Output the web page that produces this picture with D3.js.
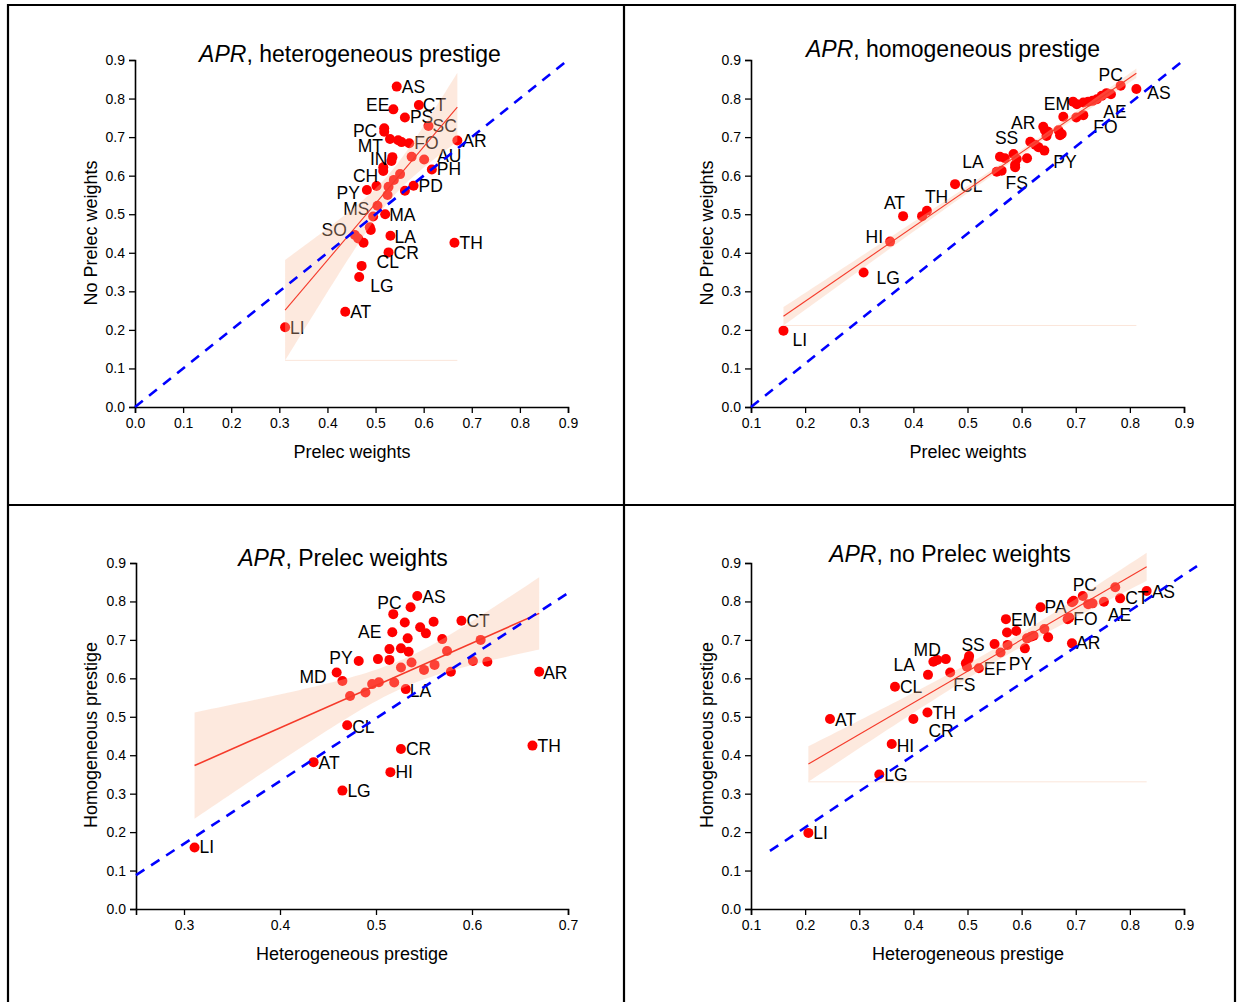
<!DOCTYPE html>
<html><head><meta charset="utf-8">
<script src="https://cdn.jsdelivr.net/npm/d3@7"></script>
<style>
body{margin:0;background:#fff}
text{font-family:Arial,"Liberation Sans",sans-serif;fill:#000}
</style>
</head><body>
<svg id="chart" width="1237" height="1002"></svg>
<script>
// ---------- DATA ----------
// Panel 1: APR, heterogeneous prestige  (x: Prelec weights, y: No Prelec weights)
const p1Points = [
 [0.544,0.831,"AS"],[0.537,0.772,"EE"],[0.590,0.783,"CT"],[0.561,0.751,"PS"],[0.610,0.729,"SC"],
 [0.518,0.723,"PC"],[0.518,0.714,""],[0.530,0.695,"MT"],[0.547,0.692,""],[0.554,0.687,""],
 [0.570,0.684,"FO"],[0.670,0.691,"AR"],[0.535,0.648,"IN"],[0.533,0.638,""],[0.575,0.649,""],
 [0.601,0.642,"AU"],[0.617,0.616,"PH"],[0.516,0.622,""],[0.516,0.612,"CH"],[0.551,0.604,""],
 [0.538,0.589,""],[0.482,0.563,"PY"],[0.502,0.573,""],[0.527,0.571,""],[0.525,0.550,""],
 [0.579,0.574,"PD"],[0.561,0.561,""],[0.504,0.522,"MS"],[0.520,0.500,"MA"],[0.495,0.494,""],
 [0.488,0.466,""],[0.490,0.459,""],[0.457,0.446,"SO"],[0.464,0.437,""],[0.475,0.426,""],
 [0.531,0.444,"LA"],[0.527,0.401,"CR"],[0.471,0.366,"CL"],[0.466,0.337,"LG"],[0.437,0.247,"AT"],
 [0.312,0.207,"LI"],[0.664,0.426,"TH"]
];
// Panel 2: APR, homogeneous prestige  (x: Prelec weights, y: No Prelec weights)
const p2Points = [
 [0.783,0.833,"PC"],[0.812,0.825,"AS"],[0.695,0.792,"EM"],[0.702,0.785,""],[0.714,0.790,""],
 [0.723,0.792,""],[0.731,0.794,""],[0.739,0.798,""],[0.748,0.807,""],[0.757,0.814,""],
 [0.765,0.811,""],[0.677,0.753,""],[0.701,0.751,"FO"],[0.714,0.757,"AE"],[0.640,0.727,"AR"],
 [0.643,0.718,""],[0.649,0.714,""],[0.668,0.718,""],[0.674,0.708,""],[0.646,0.703,""],
 [0.671,0.705,""],[0.616,0.688,"SS"],[0.625,0.680,""],[0.631,0.674,""],[0.642,0.665,"PY"],
 [0.610,0.645,""],[0.591,0.643,""],[0.585,0.656,""],[0.560,0.649,""],[0.569,0.645,""],
 [0.588,0.628,""],[0.588,0.622,""],[0.554,0.610,"LA"],[0.563,0.613,"FS"],[0.477,0.578,"CL"],
 [0.425,0.509,"TH"],[0.416,0.495,""],[0.381,0.495,"AT"],[0.357,0.429,"HI"],[0.308,0.349,"LG"],
 [0.160,0.198,"LI"]
];
// Panel 3: APR, Prelec weights  (x: Heterogeneous prestige, y: Homogeneous prestige)
const p3Points = [
 [0.543,0.814,"AS"],[0.536,0.785,"PC"],[0.518,0.767,""],[0.530,0.745,""],[0.560,0.747,""],
 [0.589,0.750,"CT"],[0.517,0.720,"AE"],[0.546,0.733,""],[0.552,0.717,""],[0.533,0.704,""],
 [0.569,0.702,""],[0.514,0.676,""],[0.526,0.678,""],[0.534,0.669,""],[0.609,0.700,""],
 [0.574,0.671,""],[0.482,0.645,"PY"],[0.502,0.650,""],[0.514,0.648,""],[0.537,0.641,""],
 [0.601,0.645,""],[0.616,0.643,""],[0.561,0.635,""],[0.550,0.622,""],[0.526,0.628,""],
 [0.670,0.617,"AR"],[0.578,0.617,""],[0.459,0.615,"MD"],[0.465,0.593,""],[0.496,0.585,""],
 [0.503,0.590,""],[0.489,0.563,""],[0.473,0.554,""],[0.519,0.589,""],[0.531,0.572,"LA"],
 [0.470,0.478,"CL"],[0.526,0.416,"CR"],[0.435,0.382,"AT"],[0.515,0.356,"HI"],[0.465,0.308,"LG"],
 [0.663,0.425,"TH"],[0.311,0.160,"LI"]
];
// Panel 4: APR, no Prelec weights  (x: Heterogeneous prestige, y: Homogeneous prestige)
const p4Points = [
 [0.831,0.827,"AS"],[0.773,0.837,""],[0.713,0.814,"PC"],[0.693,0.798,""],[0.696,0.802,""],
 [0.723,0.793,""],[0.731,0.795,""],[0.752,0.799,"AE"],[0.782,0.808,"CT"],[0.635,0.785,"PA"],
 [0.685,0.754,""],[0.688,0.758,"FO"],[0.571,0.754,"EM"],[0.573,0.719,""],[0.590,0.723,""],
 [0.610,0.704,""],[0.617,0.708,""],[0.622,0.711,""],[0.642,0.728,""],[0.649,0.707,""],
 [0.693,0.691,"AR"],[0.550,0.689,""],[0.574,0.687,""],[0.561,0.667,""],[0.606,0.678,"PY"],
 [0.503,0.658,"SS"],[0.502,0.650,""],[0.497,0.639,""],[0.499,0.630,""],[0.521,0.626,"EF"],
 [0.468,0.615,"FS"],[0.437,0.643,""],[0.444,0.648,"MD"],[0.460,0.650,""],[0.427,0.609,"LA"],
 [0.366,0.578,"CL"],[0.246,0.494,"AT"],[0.400,0.494,"CR"],[0.426,0.511,"TH"],[0.360,0.429,"HI"],
 [0.337,0.350,"LG"],[0.206,0.198,"LI"]
];
// dashed reference lines (data coordinates of end points)
const p1RefLine = [[0,0],[0.9,0.9]];
const p2RefLine = [[0.1,0],[0.9,0.9]];
const p3RefLine = [[0.25,0.088],[0.70,0.822]];
const p4RefLine = [[0.135,0.151],[0.924,0.892]];
// tick values
const ticksY = [0,0.1,0.2,0.3,0.4,0.5,0.6,0.7,0.8,0.9];
const ticksX1 = [0,0.1,0.2,0.3,0.4,0.5,0.6,0.7,0.8,0.9];
const ticksX2 = [0.1,0.2,0.3,0.4,0.5,0.6,0.7,0.8,0.9];
const ticksX3 = [0.3,0.4,0.5,0.6,0.7];
// titles / axis labels
const titles = [", heterogeneous prestige", ", homogeneous prestige", ", Prelec weights", ", no Prelec weights"];
const xTitles = ["Prelec weights","Prelec weights","Heterogeneous prestige","Heterogeneous prestige"];
const yTitles = ["No Prelec weights","No Prelec weights","Homogeneous prestige","Homogeneous prestige"];

// ---------- LAYOUT (label placement, pixels) ----------
const off1 = {AS:[5,0],EE:[-4,-4,"end"],CT:[4,0],PS:[5,0],SC:[4,0],PC:[-7,3,"end"],MT:[-7,7,"end"],
 FO:[5,0],AR:[5,0],IN:[-5,2,"end"],AU:[13,-3],PH:[5,0],CH:[-5,5,"end"],PY:[-7,3,"end"],PD:[5,0],
 MS:[-8,3,"end"],MA:[4,1],SO:[-8,-5,"end"],LA:[4,1],CR:[5,1],CL:[15,-4],LG:[11,9],AT:[5,0],LI:[5,1],TH:[5,0]};
const off2 = {PC:[-10,-11,"middle"],AS:[11,4],EM:[-3,2,"end"],AE:[20,-3],FO:[17,10],AR:[-8,-4,"end"],
 SS:[-12,-4,"end"],LA:[-13,-10,"end"],FS:[4,12],PY:[9,11],CL:[5,2],TH:[-2,-14],AT:[2,-13,"end"],
 HI:[-7,-5,"end"],LG:[13,6],LI:[9,9]};
const off3 = {AS:[5,1],PC:[-9,-4,"end"],CT:[5,0],AE:[-11,0,"end"],PY:[-6,-3,"end"],MD:[-10,4,"end"],
 AR:[4,1],LA:[4,2],CL:[5,2],CR:[5,0],AT:[5,1],HI:[5,0],LG:[5,0],TH:[5,0],LI:[5,0]};
const off4 = {AS:[5,1],PC:[2,-11,"middle"],CT:[5,0],PA:[4,0],FO:[4,1],AE:[4,13],EM:[5,1],AR:[4,0],
 PY:[-16,16],SS:[4,-11,"middle"],EF:[5,1],FS:[3,12],MD:[-10,-10,"middle"],LA:[-13,-10,"end"],
 CL:[5,0],AT:[5,1],TH:[5,0],CR:[15,12],HI:[5,2],LG:[5,1],LI:[5,0]};

const panels = [
 {pts:p1Points, ref:p1RefLine, off:off1, xd:[0,0.9], xr:[135,568], yr:[407,60], xt:ticksX1,
  title:[350,62], xl:[352,458], yl:[91,233], base:true},
 {pts:p2Points, ref:p2RefLine, off:off2, xd:[0.1,0.9], xr:[751,1184], yr:[407,60], xt:ticksX2,
  title:[953,57], xl:[968,458], yl:[707,233], base:true},
 {pts:p3Points, ref:p3RefLine, off:off3, xd:[0.25,0.7], xr:[136,568], yr:[909,563], xt:ticksX3,
  title:[343,566], xl:[352,960], yl:[91,735], base:false},
 {pts:p4Points, ref:p4RefLine, off:off4, xd:[0.1,0.9], xr:[751,1184], yr:[909,563], xt:ticksX2,
  title:[950,562], xl:[968,960], yl:[707,735], base:true}
];

const svg = d3.select("#chart");

// frame lines
const frame = svg.append("g").attr("stroke","#000").attr("stroke-width",2.2);
[[8,4,8,1002],[624,4,624,1002],[1235,4,1235,1002],[7,5,1236,5],[7,505,1236,505]].forEach(l=>
  frame.append("line").attr("x1",l[0]).attr("y1",l[1]).attr("x2",l[2]).attr("y2",l[3]));

function fit(pts){
  const n = pts.length;
  const xm = d3.mean(pts,d=>d[0]), ym = d3.mean(pts,d=>d[1]);
  const sxx = d3.sum(pts,d=>(d[0]-xm)**2), sxy = d3.sum(pts,d=>(d[0]-xm)*(d[1]-ym));
  const b = sxy/sxx, a = ym - b*xm;
  const s = Math.sqrt(d3.sum(pts,d=>(d[1]-a-b*d[0])**2)/(n-2));
  const t = 2.02;
  const f = x => a + b*x;
  const hw = x => t*s*Math.sqrt(1/n + (x-xm)**2/sxx);
  return {f,hw};
}

panels.forEach((p,i)=>{
  const g = svg.append("g");
  const x = d3.scaleLinear().domain(p.xd).range(p.xr);
  const y = d3.scaleLinear().domain([0,0.9]).range(p.yr);

  // axes
  const xMinor = d3.range(Math.round(p.xd[0]*20), Math.round(p.xd[1]*20)+1).map(k=>k/20);
  const yMinor = d3.range(0,19).map(k=>k/20);
  const xa = g.append("g").attr("transform",`translate(0,${p.yr[0]})`);
  xa.call(d3.axisBottom(x).tickValues(xMinor).tickSize(3).tickFormat(""));
  xa.call(d3.axisBottom(x).tickValues(p.xt).tickSize(6).tickFormat(d3.format(".1f")).tickPadding(5));
  const ya = g.append("g").attr("transform",`translate(${p.xr[0]},0)`);
  ya.call(d3.axisLeft(y).tickValues(yMinor).tickSize(3).tickFormat(""));
  ya.call(d3.axisLeft(y).tickValues(ticksY).tickSize(6).tickFormat(d3.format(".1f")).tickPadding(4));
  [xa,ya].forEach(a=>{
    a.selectAll(".domain").attr("stroke","#000").attr("stroke-width",1.6);
    a.selectAll(".tick line").attr("stroke","#000").attr("stroke-width",1.3);
    a.selectAll(".tick text").attr("font-size",14).attr("font-family","Arial, 'Liberation Sans', sans-serif").attr("fill","#000");
  });

  // points
  g.append("g").selectAll("circle").data(p.pts).join("circle")
    .attr("cx",d=>x(d[0])).attr("cy",d=>y(d[1])).attr("r",5).attr("fill","#ff0000");
  // labels
  g.append("g").selectAll("text").data(p.pts.filter(d=>d[2])).join("text")
    .attr("x",d=>x(d[0])+p.off[d[2]][0]).attr("y",d=>y(d[1])+p.off[d[2]][1])
    .attr("text-anchor",d=>p.off[d[2]][2]||"start")
    .attr("dominant-baseline","central").attr("font-size",17.5).text(d=>d[2]);

  // regression + confidence band
  const F = fit(p.pts);
  const [xmin,xmax] = d3.extent(p.pts,d=>d[0]);
  const xs = d3.range(0,61).map(k=>xmin+(xmax-xmin)*k/60);
  g.append("path").datum(xs)
    .attr("d",d3.area().x(v=>x(v)).y0(v=>y(F.f(v)-F.hw(v))).y1(v=>y(F.f(v)+F.hw(v))))
    .attr("fill","rgb(249,190,158)").attr("fill-opacity",0.34);
  if(p.base){
    g.append("line").attr("x1",x(xmin)).attr("x2",x(xmax))
      .attr("y1",y(F.f(xmin)-F.hw(xmin))).attr("y2",y(F.f(xmin)-F.hw(xmin)))
      .attr("stroke","#fbe6da").attr("stroke-width",1);
  }
  g.append("line").attr("x1",x(xmin)).attr("y1",y(F.f(xmin))).attr("x2",x(xmax)).attr("y2",y(F.f(xmax)))
    .attr("stroke","#f53a2a").attr("stroke-width",i===2?1.6:1.1);

  // dashed reference
  g.append("line").attr("x1",x(p.ref[0][0])).attr("y1",y(p.ref[0][1]))
    .attr("x2",x(p.ref[1][0])).attr("y2",y(p.ref[1][1]))
    .attr("stroke","#0000ff").attr("stroke-width",2.6).attr("stroke-dasharray","10,8");

  // titles
  const t = g.append("text").attr("x",p.title[0]).attr("y",p.title[1]).attr("text-anchor","middle").attr("font-size",23);
  t.append("tspan").attr("font-style","italic").text("APR");
  t.append("tspan").text(titles[i]);
  g.append("text").attr("x",p.xl[0]).attr("y",p.xl[1]).attr("text-anchor","middle").attr("font-size",18).text(xTitles[i]);
  g.append("text").attr("transform",`translate(${p.yl[0]},${p.yl[1]}) rotate(-90)`)
    .attr("text-anchor","middle").attr("dominant-baseline","central").attr("font-size",18).text(yTitles[i]);
});
</script>
</body></html>
